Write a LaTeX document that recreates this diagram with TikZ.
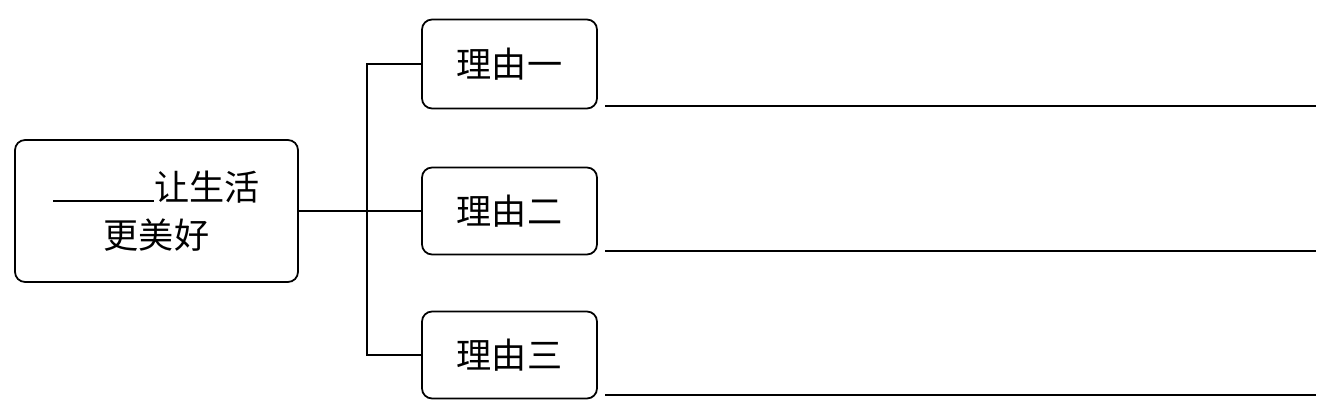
\documentclass[tikz,border=0pt]{standalone}
\usepackage{fontspec}
\newfontfamily\cjk{Noto Sans CJK SC}
\usepackage{tikz}

\begin{document}
\begin{tikzpicture}[x=0.02cm, y=-0.02cm, line width=1pt,
    font=\cjk\fontsize{20}{27}\selectfont]
    \useasboundingbox (0, 0) rectangle (1336, 405);
    \begin{scope}[every node/.style = {draw, rounded corners=2mm, align=center, inner sep=0}]
      \node[minimum width=5.66cm, minimum height=2.84cm] (topic) at (156.5, 211)
        {\rule[-1pt]{2.02cm}{1.2pt}让生活\\更美好};
      \node[minimum width=3.5cm, minimum height=1.78cm] (why1) at (509.5, 64)  {理由一};
      \node[minimum width=3.5cm, minimum height=1.74cm] (why2) at (509.5, 211) {理由二};
      \node[minimum width=3.5cm, minimum height=1.74cm] (why3) at (509.5, 355) {理由三};
    \end{scope}
    \coordinate (fork) at (367, 211);
    \draw (topic) -- (fork) -- (why2);
    \draw (why1.west) -| (fork) |- (why3.west);
    % blanks to write on
    \draw (605, 106) -- (1316, 106);
    \draw (605, 251) -- (1316, 251);
    \draw (605, 395) -- (1316, 395);
  \end{tikzpicture}
\end{document}
